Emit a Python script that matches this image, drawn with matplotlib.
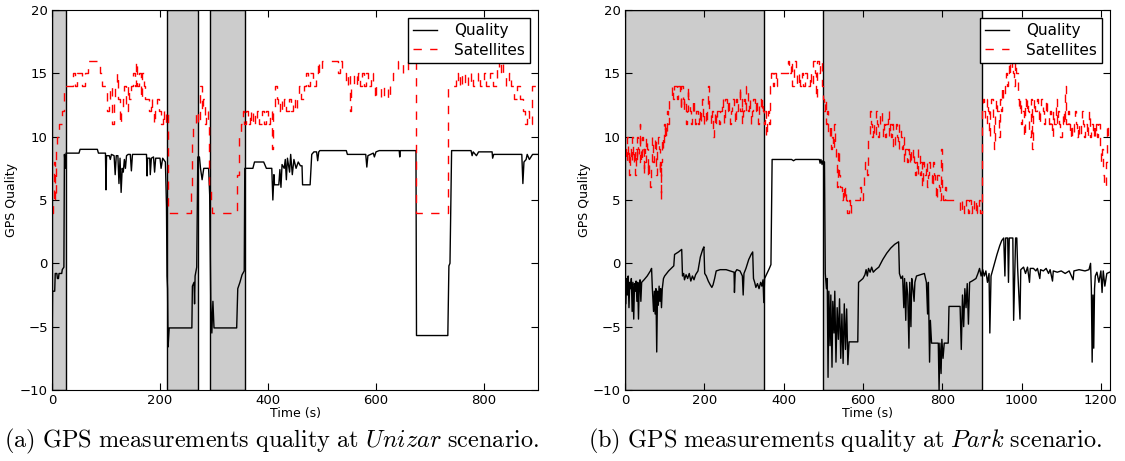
import matplotlib
matplotlib.use("Agg")
import matplotlib.pyplot as plt

plt.rcParams["mathtext.fontset"] = "cm"

# Each series is a list of (time s, value) samples.

# --- Unizar scenario --------------------------------------------------------
unizar_shade = [(0, 25), (213, 271), (292, 357)]

unizar_sat = [
    (0, 4), (2, 5), (4, 8), (6, 5), (7, 9), (10, 10), (13, 11), (18, 12), (22, 14),
    (38, 15), (42, 14), (46, 15), (56, 14), (62, 15), (66, 16), (88, 15), (92, 14),
    (100, 14), (102, 12), (105, 13), (108, 14), (111, 11), (114, 13), (117, 14),
    (120, 15), (122, 13), (125, 11), (128, 12), (131, 13), (134, 14), (137, 12),
    (140, 14), (143, 13), (146, 14), (150, 15), (153, 14), (156, 16), (158, 14),
    (161, 15), (164, 13), (167, 15), (170, 14), (173, 13), (180, 12), (183, 13),
    (186, 12), (188, 11), (191, 12), (195, 13), (198, 12), (201, 11), (205, 12),
    (208, 11), (211, 12), (214, 4), (258, 6), (260, 10), (262, 11), (266, 12),
    (270, 11), (274, 14), (277, 12), (280, 13), (283, 11), (286, 12), (289, 11),
    (291, 6), (294, 5), (297, 4), (343, 7), (346, 10), (350, 11), (353, 12),
    (356, 11), (360, 12), (363, 11), (366, 12), (369, 11), (372, 12), (376, 11),
    (380, 12), (384, 11), (388, 12), (392, 11), (396, 12), (400, 11), (404, 12),
    (408, 9), (410, 12), (413, 14), (416, 13), (419, 12), (422, 13), (426, 12),
    (430, 13), (434, 12), (438, 13), (442, 12), (446, 13), (450, 12), (454, 13),
    (458, 14), (462, 13), (466, 14), (470, 15), (474, 14), (478, 15), (484, 14),
    (488, 15), (492, 16), (495, 15), (500, 16), (530, 15), (534, 16), (537, 15),
    (545, 14), (548, 15), (552, 12), (554, 14), (560, 15), (564, 14), (567, 15),
    (570, 14), (574, 15), (578, 14), (582, 15), (586, 14), (590, 15), (594, 14),
    (598, 13), (600, 14), (610, 13), (614, 14), (622, 13), (626, 14), (632, 15),
    (640, 16), (650, 15), (660, 16), (674, 4), (734, 14), (748, 15), (752, 14),
    (756, 15), (760, 14), (764, 15), (770, 14), (776, 15), (780, 14), (788, 15),
    (792, 14), (800, 15), (804, 14), (812, 15), (816, 14), (824, 16), (828, 15),
    (832, 16), (836, 15), (840, 14), (846, 15), (850, 14), (856, 13), (862, 14),
    (866, 13), (872, 12), (876, 11), (880, 12), (884, 11), (888, 14), (900, 14),
]

unizar_quality = [
    (0, -7.5), (1, -2.2), (5, -2.2), (6, -0.8), (9, -0.8), (10, -1.2), (12, -1.2),
    (13, -0.8), (18, -0.8), (19, -0.5), (22, -0.3), (23, 8.6), (25, 7.5), (26, 8.7),
    (50, 8.7), (52, 9.0), (84, 9.0), (86, 8.7), (99, 8.7), (100, 5.8), (101, 8.5),
    (106, 8.5), (108, 8.2), (110, 8.6), (115, 8.5), (117, 7.0), (119, 8.5),
    (122, 8.5), (124, 6.3), (126, 8.3), (128, 5.6), (130, 7.5), (132, 7.2),
    (134, 8.2), (136, 7.5), (138, 8.5), (141, 8.6), (145, 8.6), (147, 7.3),
    (149, 8.6), (175, 8.6), (176, 6.9), (177, 8.3), (181, 8.3), (182, 7.0),
    (184, 8.3), (188, 8.4), (190, 7.2), (192, 8.3), (200, 8.3), (202, 7.5),
    (205, 8.3), (210, 8.0), (212, 4.5), (213, -1.0), (214, -2.0), (215, -6.6),
    (217, -5.1), (259, -5.1), (260, -1.8), (263, -1.5), (264, -3.2), (265, -1.0),
    (268, -0.3), (270, 8.4), (273, 8.4), (275, 7.5), (278, 6.6), (281, 7.5),
    (290, 7.5), (292, 5.4), (294, -3.0), (296, -5.5), (298, -3.0), (300, -5.1),
    (342, -5.1), (344, -2.0), (348, -1.5), (352, -0.9), (356, -0.6), (357, 7.5),
    (372, 7.5), (375, 8.0), (392, 8.0), (397, 7.5), (407, 7.5), (409, 5.0),
    (411, 7.0), (412, 6.2), (420, 6.2), (422, 7.4), (424, 6.0), (426, 7.8),
    (430, 7.5), (432, 8.2), (434, 6.6), (436, 8.3), (440, 7.2), (442, 8.6),
    (445, 7.0), (448, 8.2), (452, 7.5), (456, 8.0), (460, 7.7), (463, 7.7),
    (464, 6.2), (478, 6.2), (481, 8.6), (485, 8.8), (490, 8.8), (492, 8.1),
    (494, 8.8), (496, 8.9), (545, 8.9), (547, 8.6), (581, 8.6), (583, 7.6),
    (585, 8.5), (595, 8.7), (597, 8.4), (600, 8.8), (606, 8.9), (643, 8.9),
    (644, 8.4), (645, 8.9), (674, 8.9), (675, -5.7), (733, -5.7), (735, -0.2),
    (737, 0.0), (740, 8.9), (776, 8.9), (778, 8.5), (780, 8.8), (786, 8.5),
    (790, 8.8), (815, 8.8), (816, 8.3), (818, 8.6), (836, 8.6), (870, 8.6),
    (872, 6.3), (874, 8.0), (878, 8.2), (880, 8.6), (884, 8.2), (890, 8.6),
    (900, 8.6),
]

# --- Park scenario ----------------------------------------------------------
park_shade = [(0, 350), (500, 900)]

park_sat = [
    (0, 9), (3, 8), (5, 10), (7, 8), (9, 9), (11, 7), (13, 9), (15, 8), (17, 10),
    (19, 9), (21, 8), (23, 9), (25, 7), (27, 9), (29, 8), (31, 10), (33, 9), (35, 8),
    (37, 11), (39, 9), (41, 8), (43, 10), (45, 9), (47, 7), (49, 9), (51, 8),
    (53, 10), (55, 9), (57, 7), (59, 8), (61, 7), (63, 6), (65, 8), (67, 9),
    (69, 10), (71, 8), (73, 9), (75, 10), (77, 8), (79, 7), (81, 9), (83, 10),
    (85, 9), (87, 7), (89, 8), (91, 5), (92, 8), (94, 10), (96, 9), (98, 11),
    (100, 10), (102, 11), (104, 10), (106, 12), (108, 11), (110, 12), (112, 13),
    (118, 14), (121, 13), (124, 14), (130, 13), (133, 14), (138, 13), (140, 12),
    (142, 14), (145, 13), (148, 12), (150, 13), (153, 11), (156, 12), (158, 14),
    (160, 13), (163, 12), (166, 11), (168, 12), (171, 13), (174, 12), (177, 11),
    (180, 12), (183, 11), (186, 12), (189, 11), (192, 12), (195, 13), (197, 11),
    (200, 12), (203, 11), (206, 12), (210, 14), (213, 12), (216, 11), (219, 12),
    (222, 10), (224, 11), (227, 12), (230, 11), (233, 12), (236, 11), (240, 12),
    (244, 13), (247, 12), (250, 11), (253, 13), (256, 12), (259, 13), (262, 12),
    (265, 11), (268, 12), (271, 13), (274, 12), (277, 11), (280, 13), (283, 12),
    (286, 13), (289, 14), (291, 12), (294, 13), (296, 11), (298, 12), (300, 13),
    (303, 12), (306, 14), (309, 12), (312, 13), (315, 12), (318, 11), (321, 12),
    (324, 13), (327, 12), (330, 13), (333, 12), (336, 11), (339, 13), (342, 12),
    (345, 13), (348, 12), (351, 11), (354, 12), (356, 10), (358, 11), (361, 12),
    (364, 11), (366, 14), (369, 15), (372, 14), (375, 15), (380, 14), (384, 15),
    (410, 16), (414, 15), (418, 16), (422, 14), (426, 16), (430, 15), (434, 14),
    (438, 15), (442, 14), (446, 15), (450, 14), (454, 15), (460, 14), (466, 15),
    (470, 14), (474, 16), (478, 15), (482, 13), (484, 16), (488, 15), (492, 16),
    (496, 14), (499, 13), (501, 12), (504, 13), (507, 11), (510, 12), (513, 10),
    (516, 11), (519, 9), (521, 10), (524, 9), (527, 11), (530, 9), (532, 8),
    (534, 6), (536, 7), (538, 9), (540, 7), (543, 6), (546, 5), (549, 6), (552, 5),
    (555, 6), (558, 5), (561, 4), (564, 5), (567, 4), (570, 5), (590, 5), (593, 6),
    (596, 5), (600, 6), (603, 7), (606, 8), (609, 7), (612, 9), (614, 10),
    (617, 12), (620, 11), (623, 10), (626, 11), (629, 10), (632, 12), (635, 11),
    (638, 10), (641, 11), (644, 12), (647, 11), (650, 10), (653, 11), (656, 10),
    (659, 11), (662, 12), (665, 10), (668, 11), (671, 10), (674, 11), (677, 9),
    (680, 10), (683, 11), (686, 10), (689, 9), (692, 11), (695, 10), (698, 9),
    (701, 10), (704, 8), (707, 9), (710, 8), (713, 9), (716, 8), (719, 9),
    (722, 8), (725, 9), (728, 8), (731, 7), (734, 8), (737, 7), (740, 9), (743, 7),
    (746, 8), (749, 6), (752, 8), (755, 7), (758, 8), (761, 6), (764, 7), (767, 8),
    (770, 7), (773, 6), (776, 8), (779, 7), (782, 6), (785, 5), (788, 7), (791, 6),
    (794, 5), (797, 9), (800, 6), (803, 5), (806, 6), (810, 5), (840, 5), (845, 4),
    (850, 5), (855, 4), (860, 5), (864, 4), (868, 5), (872, 4), (876, 5), (880, 4),
    (884, 5), (888, 4), (892, 5), (896, 4), (900, 12), (903, 13), (906, 12),
    (909, 11), (912, 13), (915, 12), (918, 10), (921, 12), (924, 13), (927, 11),
    (930, 9), (933, 12), (936, 13), (939, 12), (942, 10), (945, 13), (948, 12),
    (951, 14), (954, 13), (957, 14), (960, 15), (963, 14), (966, 15), (969, 16),
    (972, 15), (975, 16), (978, 15), (981, 14), (984, 16), (987, 15), (990, 13),
    (993, 12), (996, 13), (999, 11), (1002, 12), (1005, 10), (1008, 13),
    (1011, 12), (1014, 13), (1017, 12), (1020, 10), (1023, 13), (1026, 9),
    (1029, 12), (1032, 13), (1035, 12), (1038, 13), (1041, 12), (1044, 11),
    (1047, 12), (1050, 13), (1053, 12), (1056, 11), (1059, 12), (1062, 13),
    (1065, 12), (1068, 11), (1071, 12), (1074, 11), (1077, 10), (1080, 12),
    (1083, 11), (1086, 13), (1089, 11), (1092, 12), (1095, 11), (1098, 10),
    (1101, 11), (1104, 12), (1107, 11), (1110, 14), (1113, 11), (1116, 12),
    (1119, 11), (1122, 10), (1125, 11), (1128, 10), (1131, 11), (1134, 12),
    (1137, 11), (1140, 10), (1143, 11), (1146, 10), (1149, 11), (1152, 12),
    (1155, 11), (1158, 10), (1161, 11), (1164, 10), (1167, 11), (1170, 12),
    (1173, 10), (1176, 11), (1179, 10), (1182, 11), (1185, 10), (1188, 11),
    (1191, 10), (1194, 11), (1197, 9), (1200, 8), (1203, 9), (1206, 7), (1209, 6),
    (1212, 8), (1215, 11), (1218, 10), (1222, 10),
]

park_quality = [
    (0, -1.5), (2, -3.2), (4, -1.2), (6, -2.5), (8, -1.0), (10, -3.5), (12, -1.5),
    (14, -2.0), (16, -1.2), (18, -3.8), (20, -1.5), (22, -4.4), (24, -1.6),
    (26, -2.2), (28, -1.4), (30, -3.0), (32, -1.5), (34, -4.4), (36, -1.6),
    (38, -1.3), (40, -3.0), (42, -1.5), (48, -1.3), (56, -1.0), (64, -0.6),
    (67, -0.4), (69, -2.0), (72, -3.8), (74, -2.2), (76, -4.0), (78, -2.0),
    (80, -7.0), (82, -2.2), (84, -3.3), (86, -1.8), (88, -3.0), (90, -2.0),
    (92, -3.5), (94, -2.0), (97, -1.2), (100, -1.0), (110, -0.6), (120, -0.3),
    (123, -0.2), (125, 0.7), (135, 0.9), (143, 1.1), (145, -1.0), (148, -0.8),
    (150, -1.3), (154, -0.9), (158, -1.2), (162, -0.8), (166, -1.4), (170, -1.0),
    (174, -1.3), (178, -0.9), (184, -0.6), (190, 0.5), (196, 1.1), (199, 1.3),
    (201, -0.8), (205, -1.0), (210, -1.4), (215, -1.7), (219, -1.9), (222, -1.7),
    (226, -1.2), (230, -0.6), (240, -0.5), (255, -0.5), (265, -0.6), (275, -0.7),
    (276, -2.3), (278, -0.7), (282, -0.5), (290, -0.6), (296, -1.0), (298, -2.5),
    (300, -0.8), (305, -0.4), (312, 0.3), (318, 0.7), (322, 0.9), (324, -1.2),
    (327, -1.5), (330, -1.9), (334, -1.6), (338, -2.0), (342, -1.5), (345, -1.8),
    (348, -1.3), (350, -3.1), (352, -1.2), (358, -0.8), (364, -0.4), (368, -0.1),
    (371, 8.2), (420, 8.2), (425, 8.1), (430, 8.2), (490, 8.2), (492, 7.9),
    (494, 8.2), (497, 7.8), (499, 8.1), (503, 8.0), (505, -0.8), (508, -2.0),
    (510, -1.2), (512, -9.0), (514, -2.2), (517, -6.5), (519, -2.5), (522, -8.2),
    (524, -3.0), (527, -5.5), (529, -2.2), (532, -7.8), (535, -3.5), (538, -6.0),
    (541, -2.8), (544, -7.5), (547, -4.0), (550, -7.9), (553, -3.2), (556, -6.8),
    (559, -3.6), (562, -8.0), (565, -6.2), (587, -6.2), (589, -1.5), (600, -1.2),
    (605, -0.9), (608, -0.5), (611, -1.0), (614, -0.4), (618, -0.7), (622, -0.3),
    (626, -0.7), (632, -0.5), (640, -0.3), (650, 0.3), (660, 0.8), (670, 1.2),
    (680, 1.5), (690, 1.7), (692, -0.8), (696, -1.2), (700, -1.0), (703, -3.5),
    (705, -1.2), (708, -4.5), (710, -1.5), (713, -2.5), (716, -6.7), (718, -1.5),
    (721, -5.0), (723, -1.2), (726, -2.0), (729, -3.0), (731, -1.5), (735, -1.0),
    (745, -0.9), (755, -0.8), (760, -1.5), (763, -4.0), (765, -1.5), (768, -7.8),
    (770, -4.5), (773, -6.3), (790, -6.3), (792, -10.0), (794, -6.3), (797, -8.7),
    (799, -6.0), (802, -7.5), (805, -6.3), (815, -6.3), (817, -3.4), (845, -3.4),
    (848, -6.8), (851, -2.5), (854, -5.0), (857, -2.0), (860, -3.5), (863, -1.6),
    (866, -4.8), (869, -1.5), (875, -1.4), (885, -1.2), (890, -0.8), (894, -0.4),
    (898, -1.0), (902, -0.5), (906, -1.0), (910, -0.6), (914, -1.5), (918, -0.8),
    (920, -5.5), (923, -1.0), (930, -0.2), (938, 0.7), (945, 1.4), (950, 1.8),
    (955, 2.0), (958, -1.0), (960, 2.0), (965, 2.0), (967, -1.5), (969, 2.0),
    (978, 2.0), (980, -4.5), (982, -1.8), (985, 2.0), (988, 2.0), (990, -0.3),
    (996, -4.4), (998, -0.5), (1005, -0.3), (1010, -0.8), (1015, -0.3),
    (1020, -1.5), (1022, -0.4), (1030, -0.4), (1036, -0.6), (1040, -0.4),
    (1046, -1.2), (1048, -0.5), (1055, -0.6), (1062, -0.4), (1068, -0.8),
    (1072, -0.5), (1078, -1.4), (1080, -0.6), (1090, -0.7), (1100, -0.6),
    (1110, -0.8), (1120, -0.6), (1130, -1.3), (1132, -0.6), (1145, -0.5),
    (1160, -0.6), (1170, -0.5), (1174, 0.0), (1176, -2.0), (1178, -7.8),
    (1180, -2.5), (1182, -6.7), (1184, -2.0), (1186, -1.0), (1190, -0.7),
    (1195, -1.5), (1200, -0.6), (1203, -2.3), (1206, -0.6), (1210, -1.8),
    (1215, -0.8), (1222, -0.7),
]

panels = [
    ("Unizar", "a", 900, [0, 200, 400, 600, 800], unizar_shade,
     unizar_quality, unizar_sat),
    ("Park", "b", 1223, [0, 200, 400, 600, 800, 1000, 1200], park_shade,
     park_quality, park_sat),
]

fig = plt.figure(figsize=(11.25, 4.61), dpi=100)
W, H = 1125, 461
# (axes left px, axes width px, caption centre px)
layout = [(52, 486, 272), (625, 485, 845)]

for (name, letter, xmax, xticks, shade, quality, sats), (x0, w, cx) in zip(panels, layout):
    ax = fig.add_axes([x0 / W, 71 / H, w / W, 380 / H])
    for a, b in shade:
        ax.axvspan(a, b, facecolor="0.8", edgecolor="k", lw=1.0, zorder=0)
    qt, qv = zip(*quality)
    st, sv = zip(*sats)
    ax.plot(qt, qv, color="k", lw=1.0, label="Quality")
    ax.step(st, sv, where="post", color="r", ls=(0, (6, 6)), lw=1.0,
            label="Satellites")
    ax.set_xlim(0, xmax)
    ax.set_ylim(-10, 20)
    ax.set_xticks(xticks)
    ax.set_yticks([-10, -5, 0, 5, 10, 15, 20])
    ax.tick_params(direction="in", top=True, right=True, labelsize=9.5,
                   length=5, pad=3)
    ax.set_xlabel("Time (s)", fontsize=9, labelpad=0)
    ax.set_ylabel("GPS Quality", fontsize=9)
    ax.yaxis.set_label_coords(-34 / w, 0.5)
    leg = ax.legend(loc="upper right", fontsize=11, fancybox=False,
                    framealpha=1, edgecolor="k", handlelength=1.6,
                    handletextpad=1.1, borderpad=0.35, labelspacing=0.3)
    leg.get_frame().set_linewidth(1.0)
    caption = (r"$\mathrm{(%s)\ GPS\ measurements\ quality\ at\ }\mathit{%s}"
               r"\mathrm{\ scenario.}$" % (letter, name))
    fig.text(cx / W, 20 / H, caption, ha="center", va="center", fontsize=17.5)

fig.savefig("out.png", dpi=100)
